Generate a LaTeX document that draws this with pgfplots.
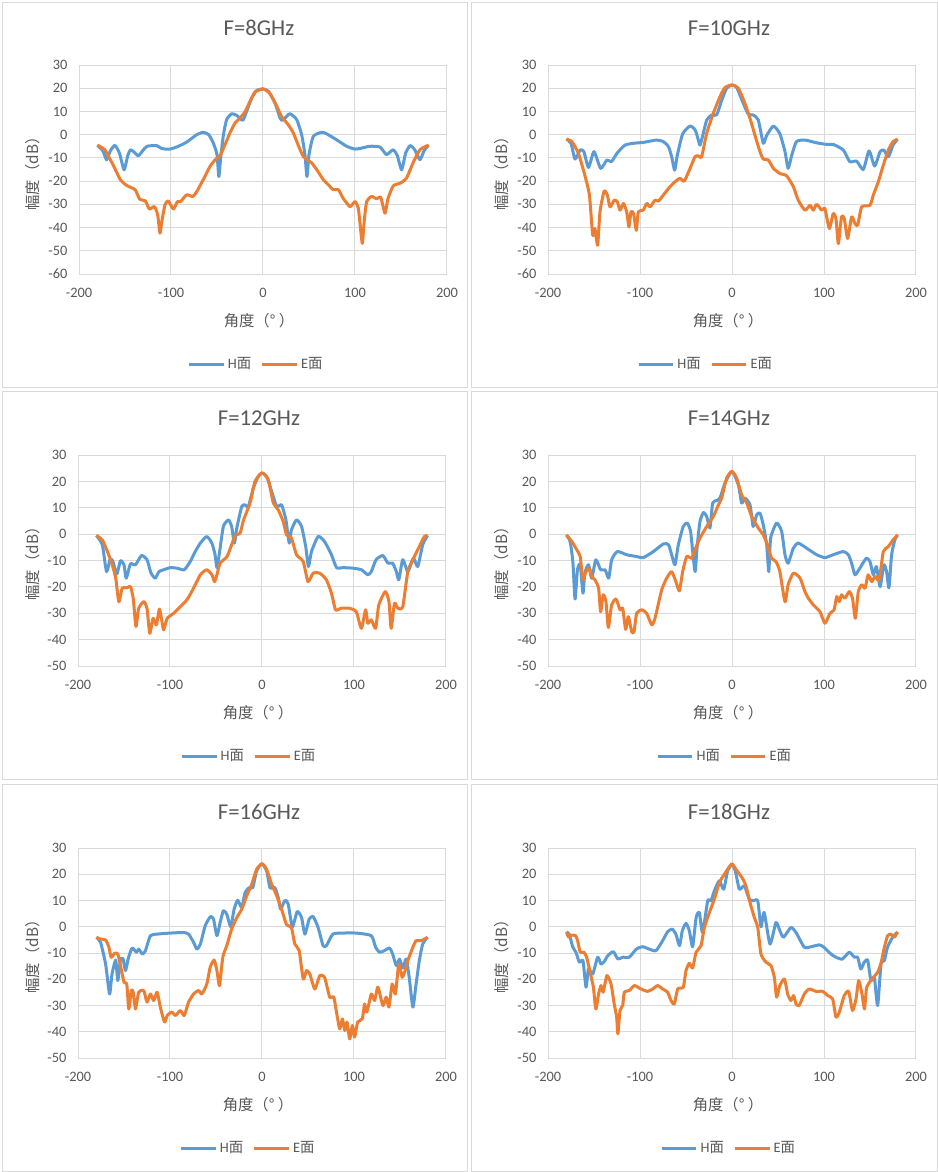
\documentclass[border=0pt]{standalone}
\usepackage{fontspec}
\setmainfont{Carlito}
\newfontfamily\cjk{Noto Sans CJK SC}
\usepackage{pgfplots}
\pgfplotsset{compat=1.18}
\definecolor{tickc}{HTML}{595959}
\definecolor{gridc}{HTML}{D9D9D9}
\definecolor{hblue}{HTML}{5B9BD5}
\definecolor{eorange}{HTML}{ED7D31}
\newcommand{\tickfont}{\fontsize{10.8}{12}\selectfont}
\pgfplotsset{
  rp/.style={
    scale only axis, width=276pt,
    xmin=-200, xmax=200, xtick={-200,-100,0,100,200},
    ymax=30,
    grid=major,
    major grid style={draw=gridc, line width=0.75pt},
    axis line style={draw=gridc, line width=0.75pt},
    major tick length=0pt,
    tick style={draw=none},
    /pgf/number format/assume math mode=true,
    ticklabel style={font=\tickfont, text=tickc, inner sep=0pt},
    yticklabel style={anchor=east, xshift=-8.5pt},
    xticklabel style={anchor=base, yshift=-17.9pt},
    legend columns=2,
    legend style={draw=none, fill=none, font=\tickfont, text=tickc, anchor=center,
      /tikz/every even column/.append style={column sep=5pt}},
    legend image code/.code={\draw[##1] (0pt,0pt) -- (26pt,0pt);},
  },
  r1/.style={rp, height=156.75pt, ymin=-60, ytick={-60,-50,-40,-30,-20,-10,0,10,20,30}},
  r2/.style={rp, height=158.25pt, ymin=-50, ytick={-50,-40,-30,-20,-10,0,10,20,30}},
  r3/.style={rp, height=157.5pt, ymin=-50, ytick={-50,-40,-30,-20,-10,0,10,20,30}},
  hl/.style={color=hblue, line width=2.25pt, smooth, tension=0.35, line join=round},
  el/.style={color=eorange, line width=2.25pt, smooth, tension=0.35, line join=round},
}
\begin{document}
\begin{tikzpicture}
\begin{scope}[x=0.75pt,y=-0.75pt]
\fill[white] (0,0) rectangle (938,1172);
\path[use as bounding box] (0,0) rectangle (938,1172);
\begin{scope}[draw=gridc, line width=0.75pt]
\draw (2,2) rectangle (467,387);
\draw (471,2) rectangle (937,387);
\draw (2,391) rectangle (467,779);
\draw (471,391) rectangle (937,779);
\draw (2,784) rectangle (467,1171);
\draw (471,784) rectangle (937,1171);
\end{scope}
\end{scope}

% ---------------- Panel 1: 8 GHz
\begin{axis}[r1, at={(59.25pt,-205.5pt)}, anchor=south west,
  legend style={at={(0.482,-0.431)}}]
\addplot[hl] coordinates {(-180,-4.5) (-174,-7) (-170,-10.8) (-166,-7) (-161,-4.6) (-156,-8) (-151,-15.1) (-147,-9) (-144,-6.5) (-140,-7.5) (-135.5,-9.1) (-131,-7) (-126,-5) (-115.6,-4.7) (-110,-6) (-101,-6.2) (-92,-5) (-83,-3.2) (-72,0) (-65,1) (-59,0) (-54,-3.6) (-50,-8.6) (-48,-18) (-46,-10) (-43,0) (-39.5,6.5) (-34,9) (-28.6,8.3) (-22,6.2) (-17.8,10) (-12.3,15.8) (-7,19) (0,19.7) (5.8,18.7) (13,13.7) (18.5,7.2) (21.4,6.2) (29,9) (36.6,6.5) (42,0) (45.6,-8.6) (47.8,-18) (50,-8.6) (54.7,-0.7) (63.8,1) (69,0.4) (80,-2.2) (91,-5) (100,-6.2) (107,-5.8) (116,-5) (127,-5.3) (134,-8.6) (138,-7.5) (141.7,-6.5) (146,-9) (150.7,-15.1) (155,-8) (160,-4.7) (165,-6.5) (170.6,-10.8) (175,-7) (180,-4.5)};
\addplot[el] coordinates {(-180,-4.5) (-172,-6.5) (-163,-13) (-155,-19.4) (-148,-21.9) (-139,-23.7) (-134,-27.8) (-128,-28.5) (-123.5,-32) (-118,-31) (-114.5,-34.5) (-112,-42.4) (-110,-37.4) (-106.5,-30.2) (-103,-28.5) (-97.5,-32) (-93,-28.8) (-89.5,-28.8) (-83,-25.9) (-76.4,-26.6) (-72,-24.5) (-65,-19.4) (-57.6,-13.7) (-52,-10.8) (-46.7,-9) (-41.3,-4.3) (-36,0.7) (-30.4,5) (-25,7.2) (-19.6,9.8) (-14,14.4) (-8.7,18.3) (0,19.7) (7.6,17.7) (15,12.2) (20,7.9) (27.5,4.3) (33,0.7) (38.4,-4.6) (43.8,-9.4) (53,-12.2) (58.3,-15) (65.6,-19.4) (71,-21.6) (76.4,-23.7) (82,-23.7) (87,-27.3) (94.6,-31) (100,-28.8) (103.6,-31.7) (106,-40.3) (108,-46.8) (110,-37.4) (112.7,-28.8) (118,-26.6) (123.5,-27.6) (128,-27) (132.6,-33.8) (136,-27.3) (141.7,-22) (149,-20.9) (156,-18.7) (163,-12.2) (170.6,-6.5) (180,-4.5)};
\legend{H{\cjk 面},E{\cjk 面}}
\end{axis}

% ---------------- Panel 2: 10 GHz
\begin{axis}[r1, at={(411pt,-205.5pt)}, anchor=south west,
  legend style={at={(0.429,-0.431)}}]
\addplot[hl] coordinates {(-180,-1.9) (-175,-3.7) (-170.6,-10.5) (-165,-6.6) (-161,-7.3) (-156,-14.1) (-150,-7.3) (-142.8,-14.5) (-136,-10.9) (-131,-11.6) (-124.6,-7.8) (-116.3,-4.5) (-107,-3.7) (-96,-3.3) (-82,-2.3) (-74.6,-3) (-69,-5.2) (-65.6,-9.5) (-62.3,-15.3) (-59.4,-8.8) (-53.6,0.4) (-45.6,3.7) (-40,2) (-36.6,-2.3) (-34.8,-4.5) (-32,-0.7) (-27.5,6.3) (-22,8.5) (-16.7,8.5) (-11,15) (-5.8,20) (0,21.4) (5,20.4) (12.3,13.5) (17.8,8.8) (23,8.5) (28.6,6.3) (34,-3.7) (37.7,-0.3) (45,3.7) (52,0.4) (57.6,-7.3) (61,-14.5) (65,-8.8) (70,-3) (79,-2.3) (92,-3.5) (103,-4.2) (110,-4.2) (121,-6.6) (128,-11.6) (135.5,-11.4) (142.7,-15) (149,-7) (155,-13.5) (161,-7.3) (165,-6.6) (170,-9.5) (175,-4.5) (180,-1.9)};
\addplot[el] coordinates {(-180,-1.9) (-174,-3) (-167,-8) (-160,-17.4) (-155,-26) (-151.4,-43.3) (-149,-40.4) (-146,-47.6) (-143.5,-33.2) (-139,-24.3) (-135.5,-26) (-132.6,-31.1) (-128,-28.2) (-124.6,-28.9) (-121.7,-32.5) (-118,-29.6) (-114.5,-33.2) (-112,-39.7) (-109.8,-33.2) (-107,-34) (-104,-41.2) (-101.8,-33.2) (-96.4,-32.5) (-92.8,-29.6) (-89,-31.1) (-83.7,-28.2) (-80,-28.6) (-74.6,-26) (-67.4,-22.4) (-62,-20.3) (-56.5,-18.8) (-52,-20) (-46.4,-15.3) (-40.2,-9.5) (-36.6,-9.1) (-33,-9.5) (-27.5,0.6) (-20.3,9.2) (-13,16.4) (-7.6,20.3) (0,21.4) (6.9,20) (14,13.5) (19.6,7) (25,-0.3) (30.4,-7.3) (34,-10.5) (39.5,-10.9) (45,-14.5) (52,-16.7) (59.4,-17.7) (66.7,-22.4) (72,-28.2) (79.3,-32.5) (84.8,-30.4) (88.4,-32.5) (92,-30) (97.5,-32.5) (101,-31.8) (105.8,-40.4) (110,-34) (113,-36.1) (115.6,-46.9) (119,-35.4) (122,-36.1) (125.7,-44.7) (130,-35.4) (133.7,-38.3) (136.6,-39) (141,-31.1) (150,-30.4) (153.6,-26) (159,-20.3) (164.5,-13.1) (170,-6.6) (175,-3) (180,-1.9)};
\legend{H{\cjk 面},E{\cjk 面}}
\end{axis}

% ---------------- Panel 3: 12 GHz
\begin{axis}[r2, at={(58.5pt,-499.5pt)}, anchor=south west,
  legend style={at={(0.465,-0.427)}}]
\addplot[hl] coordinates {(-180,-0.5) (-173.6,-4) (-169,-14.2) (-165,-9.4) (-162,-10.4) (-158,-15.2) (-153.8,-10.1) (-150,-11.6) (-147.6,-16.7) (-143,-11.3) (-137.5,-11.6) (-131,-8.1) (-125,-9.7) (-120.6,-14.8) (-116,-16.7) (-112,-14.2) (-106.9,-13.5) (-99.6,-12.7) (-92.4,-12.9) (-84.5,-13.5) (-78,-10.4) (-72.6,-6.6) (-67,-3.4) (-60,-0.9) (-54.5,-3.4) (-51,-7.8) (-49,-12.7) (-46,-6.6) (-42,2.9) (-36.5,5.4) (-33,2.9) (-30,-3.4) (-27.4,2.3) (-22,10.5) (-18.4,11.1) (-14.8,10.5) (-9.4,17.5) (-4,21.9) (0,23.2) (5,21.9) (10.5,16.2) (16,10.5) (21.3,11.1) (26,5.4) (29.6,-3.4) (32,1.6) (37.5,5.4) (43,2.9) (47.6,-4.9) (50.5,-12.3) (53.8,-6.6) (61,-0.9) (68,-2.8) (75.5,-7.8) (81,-12.7) (88,-12.7) (99,-12.9) (108,-13.5) (115,-15.4) (118.8,-14.2) (124,-9.7) (131.4,-8.1) (136.8,-11) (142,-11) (146,-14.2) (148.7,-17.3) (153,-9.7) (158.5,-14.2) (164.6,-9.1) (169.3,-12.3) (174.7,-4) (180,-0.5)};
\addplot[el] coordinates {(-180,-0.5) (-173.6,-2.2) (-168,-6.6) (-162.8,-11.6) (-159,-16.7) (-155.6,-25.6) (-152,-20.5) (-146.6,-20.3) (-143,-19.9) (-140,-24.3) (-137,-35) (-134,-28.1) (-128.5,-25.6) (-125,-28.1) (-122,-37.6) (-118.4,-31.9) (-114.8,-34.4) (-111.5,-28.4) (-108.7,-33.2) (-106.9,-36.3) (-103,-31.9) (-96,-30) (-90.6,-28.1) (-81.6,-24.9) (-74.4,-20.5) (-67,-15.4) (-60,-13.5) (-54.5,-15.4) (-51.6,-18) (-49,-15.4) (-45.5,-11) (-38,-8.5) (-33,-4) (-29,-0.5) (-23.8,0.4) (-20,5.4) (-13,11.8) (-7.6,20) (0,23.2) (6.9,20.6) (12.3,11.8) (17.7,9.2) (23,4.8) (26.7,-0.3) (32,-1.5) (37.5,-7.8) (44.8,-10.4) (50,-18) (55.6,-14.8) (62.8,-14.8) (70,-17.3) (75.5,-22.4) (80,-28.7) (86,-28.1) (95,-28.1) (102.5,-29.4) (108,-35.7) (112.6,-28.7) (115,-33.8) (118.8,-32.5) (123.5,-35.7) (127,-26.8) (134,-21.8) (138,-25.6) (140.4,-35.7) (144,-26.2) (147.7,-28.1) (153,-27.5) (158.5,-14.2) (164,-9.7) (171,-4.7) (176.5,-0.9) (180,-0.5)};
\legend{H{\cjk 面},E{\cjk 面}}
\end{axis}

% ---------------- Panel 4: 14 GHz
\begin{axis}[r2, at={(411pt,-499.5pt)}, anchor=south west,
  legend style={at={(0.481,-0.427)}}]
\addplot[hl] coordinates {(-180,-0.3) (-176,-2.8) (-173,-10.4) (-170.6,-24.6) (-168,-13.5) (-165,-11.6) (-162,-22.4) (-160,-14.8) (-156,-11.6) (-152.5,-16.7) (-148,-9.7) (-142.8,-13.5) (-138,-13.5) (-134,-16.7) (-130.8,-9.7) (-124.6,-6.6) (-114.5,-7.8) (-103.6,-8.5) (-96.4,-8.9) (-85.5,-6.6) (-74.6,-3.7) (-69,-4) (-65.6,-7.8) (-62,-11.6) (-58.3,-4) (-53,2.9) (-48.6,4.2) (-45,1) (-42,-9.1) (-40,-14.2) (-37.7,-4) (-34.8,4.8) (-31,8.2) (-27.5,6.7) (-24,2.3) (-21,11.8) (-16.7,12.7) (-13,13.7) (-7.6,19.4) (0,23.8) (6.9,18.7) (10.5,11.8) (14,13.7) (19.6,11.1) (23,2.9) (26.8,7.3) (30.4,8) (34,3.5) (37.7,-4) (40,-14.2) (42,-1.5) (48.5,4.2) (54,1) (57.6,-7.8) (61,-11) (66.7,-5.3) (72,-3.4) (81,-5.3) (92,-7.8) (101,-8.9) (110,-7.8) (121,-6.6) (126.5,-7.8) (130,-11) (133.7,-15.4) (139,-12.9) (146,-9.1) (150,-10.4) (153.6,-15.4) (157,-12.3) (161,-19.9) (165,-11.6) (168,-14.2) (170.6,-20.3) (173.5,-7.8) (177,-2.2) (180,-0.3)};
\addplot[el] coordinates {(-180,-0.3) (-174,-2.8) (-168.8,-5.9) (-165,-8.5) (-162,-17.3) (-158.7,-14.2) (-155,-12.9) (-152.5,-16.1) (-149,-17.3) (-145,-20.5) (-142.8,-29.4) (-140,-23) (-137,-25.6) (-134.4,-35.4) (-130.8,-26.8) (-126,-24.6) (-121.7,-28.7) (-118.8,-28.1) (-115.6,-36.1) (-112.7,-31.3) (-109,-37) (-106.5,-37) (-103.6,-30) (-98,-28.7) (-92.8,-30) (-87.3,-34.4) (-83.7,-31.9) (-76.4,-21.1) (-71,-16.7) (-65.6,-14.2) (-61,-18) (-57.2,-21.5) (-53.6,-14.2) (-49.3,-8.5) (-43.8,-9.1) (-39.5,-5.3) (-34.8,-1.5) (-27.5,2.9) (-20.3,6.7) (-14.8,11.1) (-11.2,13.7) (-5.8,21.3) (0,23.8) (5,21.3) (10.5,14.9) (16,11.8) (21.4,6.7) (28.6,2.3) (34,-0.3) (38.4,-4) (43,-9.1) (47.8,-10.4) (52,-14.2) (57.6,-25.6) (61,-19.2) (66.7,-14.8) (74,-16.7) (79.3,-21.8) (83,-24.3) (88.4,-26.8) (95.6,-29.4) (101,-33.8) (106.5,-30) (111,-28.7) (113.8,-23.7) (116.7,-25.6) (119,-23) (122.8,-24.3) (127.5,-21.8) (131,-24.3) (134,-31.9) (137.3,-21.8) (141,-19.2) (144.6,-20.5) (148,-15.4) (151.8,-18) (155.4,-16.1) (160,-17.3) (164.5,-6.6) (170,-4.7) (175,-2.2) (180,-0.3)};
\legend{H{\cjk 面},E{\cjk 面}}
\end{axis}

% ---------------- Panel 5: 16 GHz
\begin{axis}[r3, at={(58.5pt,-793.5pt)}, anchor=south west,
  legend style={at={(0.463,-0.429)}}]
\addplot[hl] coordinates {(-180,-4) (-175.5,-5.9) (-170,-14.2) (-165.7,-25.6) (-163,-18) (-159,-12.7) (-156.7,-20.5) (-153.8,-12.3) (-151,-12.3) (-148.4,-16.7) (-145,-11.6) (-141,-8.1) (-136.5,-9.7) (-134,-8.5) (-130,-10.4) (-126.7,-9.1) (-121.3,-3.4) (-114,-2.8) (-99.6,-2.4) (-85,-2.2) (-79.8,-2.8) (-74.4,-5.9) (-70.8,-8.5) (-67,-6.6) (-61.7,0.4) (-56,3.9) (-52.7,2.9) (-49,-3.4) (-45.5,1.6) (-42,6.1) (-38.3,4.8) (-34,0) (-30.3,6.7) (-26.4,10.1) (-22,7.3) (-18.4,13) (-14,14.9) (-10,14.9) (-5.8,21.3) (0,24) (5,21.3) (8.7,14.9) (14,14.9) (17.7,11.1) (20.2,6.7) (25,10.1) (28.5,8.6) (33,0) (38.3,5.8) (43,3.5) (46.6,-2.8) (51.3,2.9) (55.6,3.9) (61,-0.3) (66.4,-7.2) (70,-7.2) (77,-2.8) (88,-2.4) (102.5,-2.4) (118.8,-3.4) (123.5,-7.8) (127.8,-9.7) (133,-9.1) (138.6,-8.1) (142,-10.4) (146,-14.8) (149.5,-12.3) (153,-15.7) (156.7,-12.3) (160,-19.2) (164,-30.6) (167.5,-21.8) (171,-12.9) (174.7,-6.6) (180,-4)};
\addplot[el] coordinates {(-180,-4) (-175.5,-4.7) (-170,-5) (-166.4,-7.8) (-164,-11.6) (-160,-10.1) (-156.7,-10.4) (-153.8,-14.8) (-150,-21.1) (-147,-21.8) (-144.8,-31.3) (-142,-24.3) (-140,-24.9) (-137.5,-31.3) (-134,-24.9) (-128.5,-24.3) (-125,-28.7) (-121.3,-25.6) (-117.7,-28.1) (-114,-24.9) (-110.5,-30.6) (-106,-36.3) (-103,-33.8) (-98,-32.5) (-94,-33.8) (-88.8,-31.9) (-84.5,-33.8) (-79.8,-28.7) (-74.4,-25.6) (-69,-24.3) (-65.3,-25.6) (-60,-21.8) (-56.3,-15.4) (-52,-12.7) (-49,-16.7) (-46.2,-22.4) (-42.6,-11.6) (-38.3,-7.2) (-33,-0.9) (-27.4,3.5) (-22,6.7) (-16.6,11.8) (-11.2,16.2) (-5.8,21.9) (0,24) (5,21.9) (10.5,16.2) (16,11.8) (21.3,6.7) (26.7,0.8) (32,-0.3) (35.7,-6.6) (40.4,-9.1) (44.8,-19.9) (48.4,-16.7) (52,-18) (57.4,-23.7) (62.8,-18.6) (68,-19.2) (73.6,-26.8) (78,-26.8) (81.6,-33.8) (84.5,-38.9) (87.4,-35.1) (90,-39.5) (92.4,-36.3) (95.3,-42.7) (98.2,-37.6) (100.7,-42) (104,-36.3) (109,-35.1) (111.5,-29.4) (114,-32.5) (118.8,-25.6) (122.4,-28.1) (126,-23) (131.4,-30) (135,-26.8) (138,-30.6) (141.5,-21.8) (145,-25.6) (148.7,-14.2) (152.3,-19.2) (155,-17.3) (158.5,-12.9) (164,-7.8) (167.5,-5.3) (173,-5.3) (180,-4)};
\legend{H{\cjk 面},E{\cjk 面}}
\end{axis}

% ---------------- Panel 6: 18 GHz
\begin{axis}[r3, at={(411pt,-793.5pt)}, anchor=south west,
  legend style={at={(0.492,-0.429)}}]
\addplot[hl] coordinates {(-180,-2) (-177,-2.8) (-173,-7.8) (-169.6,-9.7) (-166,-13.5) (-162,-12.9) (-158.7,-23) (-156,-16.1) (-151.4,-18) (-146,-11.6) (-142.4,-14.2) (-138.8,-13.2) (-135,-11) (-129,-9.5) (-124,-12.3) (-118.8,-11.6) (-111.6,-11.6) (-104,-8.5) (-97,-7.6) (-90,-8.5) (-82.6,-9.1) (-75.4,-5.3) (-70,-1.9) (-65,-0.9) (-61,-2.8) (-57,-7.2) (-54,-1.5) (-50,1.3) (-46.4,-1.5) (-42.8,-7.6) (-39,3.5) (-35.5,5.4) (-32,-2.2) (-26.4,9.9) (-22.8,9.9) (-19.2,13.7) (-13.8,17.5) (-9,14.3) (-4.7,21.3) (0,23.8) (3.6,21.3) (8,14.3) (13.4,15.6) (18.8,10.5) (23,9.9) (28,9.9) (31.5,0) (35,5.4) (41.3,-6.6) (47.8,1.6) (52,-1.5) (56,-4) (64,-0.3) (69.6,-2.2) (78.6,-7.8) (86,-7.6) (95,-6.9) (100,-7.8) (107.6,-10.4) (113,-11.6) (120,-12.3) (127.5,-9.7) (133,-11.6) (136.6,-11.6) (140,-16.1) (143.8,-13.5) (147.5,-12.7) (151,-20.5) (154.7,-19.2) (158.3,-30) (162,-14.2) (165.6,-12.9) (169,-7.8) (174.6,-4) (180,-2)};
\addplot[el] coordinates {(-180,-2) (-177.5,-4) (-174,-3.2) (-170,-3.4) (-167.8,-5.3) (-165,-9.7) (-161,-9.7) (-158,-11.6) (-154.3,-17.3) (-150.7,-23) (-148,-31.3) (-145,-25.6) (-142.4,-22.4) (-140,-24.9) (-136,-18.6) (-131.5,-21.8) (-128,-29.4) (-125.4,-34.4) (-124,-40.8) (-121.7,-31.9) (-118.8,-30) (-117,-24.9) (-111.6,-24.3) (-106,-22.4) (-99,-23.7) (-91.7,-24.6) (-86.2,-23.7) (-80.8,-22.4) (-75.4,-23.7) (-70,-24.9) (-66.3,-28.1) (-62.7,-29.4) (-59,-23.7) (-53,-23) (-50,-16.7) (-46.4,-13.9) (-42.8,-15.7) (-39,-9.7) (-33.7,-7.2) (-30,-0.3) (-24.6,5.4) (-19.2,10.5) (-13.8,16.8) (-8.3,20) (-3.6,22.5) (0,24) (4.3,21.9) (10.9,18.7) (15.2,15.6) (19.6,9.2) (24.3,3.5) (28,-0.3) (31.5,-10.4) (37,-13.5) (42.4,-14.8) (46,-19.2) (48.5,-26.8) (52,-22.4) (57,-19.9) (60.5,-25.6) (64,-28.1) (67,-26.2) (69.6,-29.4) (73,-30) (78.6,-25.6) (84,-23.7) (91.3,-24.6) (98.5,-24.6) (104,-26.2) (109.4,-27.5) (113,-34.4) (116.7,-32.5) (122,-26.2) (126.8,-24.6) (131,-31.9) (134.8,-27.5) (137.7,-20.5) (141.3,-25.6) (144,-31.3) (146.4,-23) (151,-20.5) (154,-19.2) (158.3,-17.3) (162,-13.9) (165.6,-7.8) (169.2,-3.4) (172.8,-2.8) (176.4,-4) (180,-2)};
\legend{H{\cjk 面},E{\cjk 面}}
\end{axis}

% ---------------- Titles and axis labels
\begin{scope}[x=0.75pt,y=-0.75pt, every node/.style={text=tickc}]
\newcommand{\tf}{\fontsize{17}{20}\selectfont}
\newcommand{\lf}{\fontsize{11.5}{13}\selectfont\cjk}
\node[font=\tf] at (259,28) {F=8GHz};
\node[font=\tf] at (729,28) {F=10GHz};
\node[font=\tf] at (259,418) {F=12GHz};
\node[font=\tf] at (729,418) {F=14GHz};
\node[font=\tf] at (259,812) {F=16GHz};
\node[font=\tf] at (729,812) {F=18GHz};
\node[font=\lf] at (259,321) {角度（° ）};
\node[font=\lf] at (728,321) {角度（° ）};
\node[font=\lf] at (258,713) {角度（° ）};
\node[font=\lf] at (728,713) {角度（° ）};
\node[font=\lf] at (258,1105) {角度（° ）};
\node[font=\lf] at (728,1105) {角度（° ）};
\node[font=\lf, rotate=90] at (33,170) {幅度（dB）};
\node[font=\lf, rotate=90] at (502,170) {幅度（dB）};
\node[font=\lf, rotate=90] at (33,560) {幅度（dB）};
\node[font=\lf, rotate=90] at (502,560) {幅度（dB）};
\node[font=\lf, rotate=90] at (33,953) {幅度（dB）};
\node[font=\lf, rotate=90] at (502,953) {幅度（dB）};
\end{scope}
\end{tikzpicture}
\end{document}
